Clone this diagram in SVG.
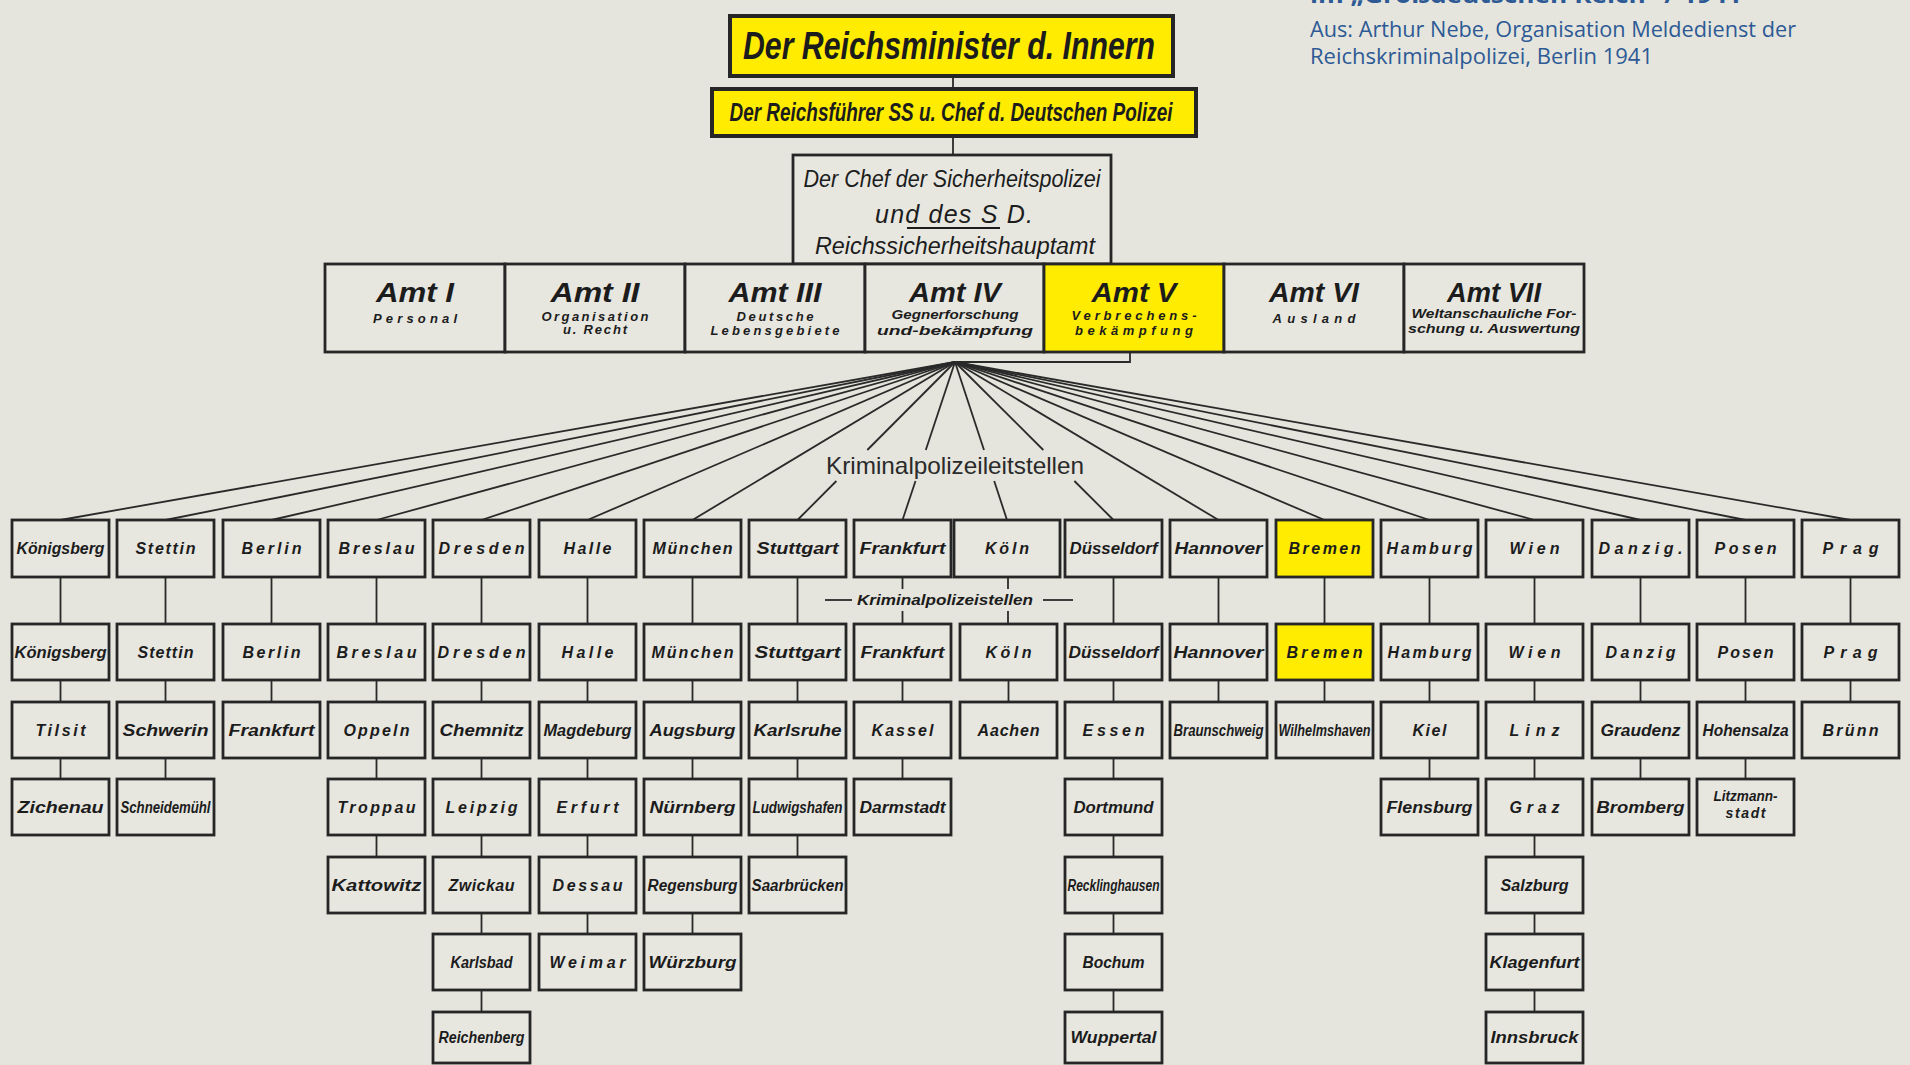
<svg xmlns="http://www.w3.org/2000/svg" width="1910" height="1065" viewBox="0 0 1910 1065">
<style>
.b{fill:#e7e7e0;stroke:#262626;stroke-width:2.8}
.y{fill:#ffec00;stroke:#262626;stroke-width:2.8}
.bt{stroke-width:4}
.t{font-family:"Liberation Sans",Arial,sans-serif;font-weight:bold;font-style:italic;font-size:16px;fill:#1c1c1c;text-anchor:middle}
.s{font-size:13px}
.a{font-size:27px}
.ch{font-family:"Liberation Sans",Arial,sans-serif;font-style:italic;font-size:23px;fill:#1c1c1c;text-anchor:middle}
.kl{font-family:"Liberation Sans",Arial,sans-serif;font-size:24px;fill:#2a2a2a;text-anchor:middle}
.hd{font-family:"Open Sans","Liberation Sans",Arial,sans-serif;font-size:21px;fill:#2d5a95}
.hb{font-family:"Open Sans","Liberation Sans",Arial,sans-serif;font-weight:bold;font-size:24px;fill:#2d5a95}
#connectors line,#connectors path{stroke:#2a2a2a;stroke-width:1.8;fill:none}
</style>
<rect x="0" y="0" width="1910" height="1065" fill="#e5e5dd"/>

<text class="hb" x="1310" y="3" textLength="432" lengthAdjust="spacingAndGlyphs">im „Großdeutschen Reich“ / 1941</text>
<text class="hd" x="1310" y="37" textLength="486" lengthAdjust="spacingAndGlyphs">Aus: Arthur Nebe, Organisation Meldedienst der</text>
<text class="hd" x="1310" y="64" textLength="343" lengthAdjust="spacingAndGlyphs">Reichskriminalpolizei, Berlin 1941</text>

<g id="connectors">
<line x1="953" y1="76" x2="953" y2="89"/>
<line x1="953" y1="136" x2="953" y2="155"/>
<path d="M1130,352 V362 H955"/>
<line x1="955" y1="362" x2="60.5" y2="520"/>
<line x1="955" y1="362" x2="165.5" y2="520"/>
<line x1="955" y1="362" x2="271.5" y2="520"/>
<line x1="955" y1="362" x2="376.5" y2="520"/>
<line x1="955" y1="362" x2="481.5" y2="520"/>
<line x1="955" y1="362" x2="587.5" y2="520"/>
<line x1="955" y1="362" x2="692.5" y2="520"/>
<line x1="955" y1="362" x2="867.3" y2="450"/><line x1="836.4" y1="481" x2="797.5" y2="520"/>
<line x1="955" y1="362" x2="925.8" y2="450"/><line x1="915.5" y1="481" x2="902.5" y2="520"/>
<line x1="955" y1="362" x2="984" y2="450"/><line x1="994.2" y1="481" x2="1007" y2="520"/>
<line x1="955" y1="362" x2="1043.3" y2="450"/><line x1="1074.4" y1="481" x2="1113.5" y2="520"/>
<line x1="955" y1="362" x2="1218.5" y2="520"/>
<line x1="955" y1="362" x2="1324.5" y2="520"/>
<line x1="955" y1="362" x2="1429.5" y2="520"/>
<line x1="955" y1="362" x2="1534.5" y2="520"/>
<line x1="955" y1="362" x2="1640.5" y2="520"/>
<line x1="955" y1="362" x2="1745.5" y2="520"/>
<line x1="955" y1="362" x2="1850.5" y2="520"/>
<line x1="60.5" y1="577" x2="60.5" y2="624"/><line x1="60.5" y1="680" x2="60.5" y2="702"/><line x1="60.5" y1="758" x2="60.5" y2="779"/>
<line x1="165.5" y1="577" x2="165.5" y2="624"/><line x1="165.5" y1="680" x2="165.5" y2="702"/><line x1="165.5" y1="758" x2="165.5" y2="779"/>
<line x1="271.5" y1="577" x2="271.5" y2="624"/><line x1="271.5" y1="680" x2="271.5" y2="702"/>
<line x1="376.5" y1="577" x2="376.5" y2="624"/><line x1="376.5" y1="680" x2="376.5" y2="702"/><line x1="376.5" y1="758" x2="376.5" y2="779"/><line x1="376.5" y1="835" x2="376.5" y2="857"/>
<line x1="481.5" y1="577" x2="481.5" y2="624"/><line x1="481.5" y1="680" x2="481.5" y2="702"/><line x1="481.5" y1="758" x2="481.5" y2="779"/><line x1="481.5" y1="835" x2="481.5" y2="857"/><line x1="481.5" y1="913" x2="481.5" y2="934"/><line x1="481.5" y1="990" x2="481.5" y2="1012"/>
<line x1="587.5" y1="577" x2="587.5" y2="624"/><line x1="587.5" y1="680" x2="587.5" y2="702"/><line x1="587.5" y1="758" x2="587.5" y2="779"/><line x1="587.5" y1="835" x2="587.5" y2="857"/><line x1="587.5" y1="913" x2="587.5" y2="934"/>
<line x1="692.5" y1="577" x2="692.5" y2="624"/><line x1="692.5" y1="680" x2="692.5" y2="702"/><line x1="692.5" y1="758" x2="692.5" y2="779"/><line x1="692.5" y1="835" x2="692.5" y2="857"/><line x1="692.5" y1="913" x2="692.5" y2="934"/>
<line x1="797.5" y1="577" x2="797.5" y2="624"/><line x1="797.5" y1="680" x2="797.5" y2="702"/><line x1="797.5" y1="758" x2="797.5" y2="779"/><line x1="797.5" y1="835" x2="797.5" y2="857"/>
<line x1="902.5" y1="577" x2="902.5" y2="589"/><line x1="902.5" y1="611" x2="902.5" y2="624"/><line x1="902.5" y1="680" x2="902.5" y2="702"/><line x1="902.5" y1="758" x2="902.5" y2="779"/>
<line x1="1008" y1="577" x2="1008" y2="589"/><line x1="1008" y1="611" x2="1008" y2="624"/><line x1="1008.5" y1="680" x2="1008.5" y2="702"/>
<line x1="1113.5" y1="577" x2="1113.5" y2="624"/><line x1="1113.5" y1="680" x2="1113.5" y2="702"/><line x1="1113.5" y1="758" x2="1113.5" y2="779"/><line x1="1113.5" y1="835" x2="1113.5" y2="857"/><line x1="1113.5" y1="913" x2="1113.5" y2="934"/><line x1="1113.5" y1="990" x2="1113.5" y2="1012"/>
<line x1="1218.5" y1="577" x2="1218.5" y2="624"/><line x1="1218.5" y1="680" x2="1218.5" y2="702"/>
<line x1="1324.5" y1="577" x2="1324.5" y2="624"/><line x1="1324.5" y1="680" x2="1324.5" y2="702"/>
<line x1="1429.5" y1="577" x2="1429.5" y2="624"/><line x1="1429.5" y1="680" x2="1429.5" y2="702"/><line x1="1429.5" y1="758" x2="1429.5" y2="779"/>
<line x1="1534.5" y1="577" x2="1534.5" y2="624"/><line x1="1534.5" y1="680" x2="1534.5" y2="702"/><line x1="1534.5" y1="758" x2="1534.5" y2="779"/><line x1="1534.5" y1="835" x2="1534.5" y2="857"/><line x1="1534.5" y1="913" x2="1534.5" y2="934"/><line x1="1534.5" y1="990" x2="1534.5" y2="1012"/>
<line x1="1640.5" y1="577" x2="1640.5" y2="624"/><line x1="1640.5" y1="680" x2="1640.5" y2="702"/><line x1="1640.5" y1="758" x2="1640.5" y2="779"/>
<line x1="1745.5" y1="577" x2="1745.5" y2="624"/><line x1="1745.5" y1="680" x2="1745.5" y2="702"/><line x1="1745.5" y1="758" x2="1745.5" y2="779"/>
<line x1="1850.5" y1="577" x2="1850.5" y2="624"/><line x1="1850.5" y1="680" x2="1850.5" y2="702"/>
<line x1="825" y1="600" x2="852" y2="600"/>
<line x1="1043" y1="600" x2="1073" y2="600"/>
</g>

<g id="reichsminister"><rect class="y bt" x="730" y="16" width="443" height="60"/><text class="t" x="949" y="59" style="font-size:38px" textLength="412" lengthAdjust="spacingAndGlyphs">Der Reichsminister d. Innern</text></g>
<g id="reichsfuehrer"><rect class="y bt" x="712" y="89" width="484" height="47"/><text class="t" x="951" y="121" style="font-size:25px" textLength="443" lengthAdjust="spacingAndGlyphs">Der Reichsführer SS u. Chef d. Deutschen Polizei</text></g>
<g id="chef-sipo"><rect class="b" x="793" y="155" width="318" height="109"/>
<text class="ch" x="952" y="187" textLength="297" lengthAdjust="spacingAndGlyphs">Der Chef der Sicherheitspolizei</text>
<text class="ch" x="954" y="223" style="font-size:25px" textLength="158" lengthAdjust="spacing">und des S D.</text>
<line x1="907" y1="228" x2="1000" y2="228" stroke="#1c1c1c" stroke-width="2"/>
<text class="ch" x="955" y="254" textLength="280" lengthAdjust="spacingAndGlyphs">Reichssicherheitshauptamt</text></g>

<g id="amt1"><rect class="b" x="325" y="264" width="180" height="88"/><text class="t a" x="415" y="302" textLength="78" lengthAdjust="spacingAndGlyphs">Amt I</text><text class="t s" x="415" y="323" textLength="84">Personal</text></g>
<g id="amt2"><rect class="b" x="505" y="264" width="180" height="88"/><text class="t a" x="595" y="302" textLength="89" lengthAdjust="spacingAndGlyphs">Amt II</text><text class="t s" x="595" y="321" textLength="107">Organisation</text><text class="t s" x="595" y="334" textLength="64">u. Recht</text></g>
<g id="amt3"><rect class="b" x="685" y="264" width="180" height="88"/><text class="t a" x="775" y="302" textLength="93" lengthAdjust="spacingAndGlyphs">Amt III</text><text class="t s" x="775" y="321" textLength="77">Deutsche</text><text class="t s" x="775" y="335" textLength="129">Lebensgebiete</text></g>
<g id="amt4"><rect class="b" x="865" y="264" width="179" height="88"/><text class="t a" x="955" y="302" textLength="92" lengthAdjust="spacingAndGlyphs">Amt IV</text><text class="t s" x="955" y="319" textLength="127" lengthAdjust="spacingAndGlyphs">Gegnerforschung</text><text class="t s" x="955" y="335" textLength="156" lengthAdjust="spacingAndGlyphs">und-bekämpfung</text></g>
<g id="amt5"><rect class="y" x="1044" y="264" width="180" height="88"/><text class="t a" x="1134" y="302" textLength="85" lengthAdjust="spacingAndGlyphs">Amt V</text><text class="t s" x="1134" y="320" textLength="125">Verbrechens-</text><text class="t s" x="1134" y="335" textLength="118">bekämpfung</text></g>
<g id="amt6"><rect class="b" x="1224" y="264" width="180" height="88"/><text class="t a" x="1314" y="302" textLength="90" lengthAdjust="spacingAndGlyphs">Amt VI</text><text class="t s" x="1314" y="323" textLength="83">Ausland</text></g>
<g id="amt7"><rect class="b" x="1404" y="264" width="180" height="88"/><text class="t a" x="1494" y="302" textLength="94" lengthAdjust="spacingAndGlyphs">Amt VII</text><text class="t s" x="1494" y="318" textLength="165" lengthAdjust="spacingAndGlyphs">Weltanschauliche For-</text><text class="t s" x="1494" y="333" textLength="172" lengthAdjust="spacingAndGlyphs">schung u. Auswertung</text></g>

<g id="label-leitstellen"><text class="kl" x="955" y="474" textLength="258" lengthAdjust="spacingAndGlyphs">Kriminalpolizeileitstellen</text></g>
<g id="label-stellen"><text class="t" x="945" y="605" style="font-size:15px" textLength="176" lengthAdjust="spacingAndGlyphs">Kriminalpolizeistellen</text></g>

<g id="c0r1"><rect class="b" x="12" y="520" width="97" height="57"/><text class="t" x="60.5" y="554" textLength="88" lengthAdjust="spacingAndGlyphs">Königsberg</text></g>
<g id="c0r2"><rect class="b" x="12" y="624" width="97" height="56"/><text class="t" x="60.5" y="658" textLength="92" lengthAdjust="spacingAndGlyphs">Königsberg</text></g>
<g id="c0r3"><rect class="b" x="12" y="702" width="97" height="56"/><text class="t" x="60.5" y="736" textLength="50">Tilsit</text></g>
<g id="c0r4"><rect class="b" x="12" y="779" width="97" height="56"/><text class="t" x="60.5" y="813" textLength="86" lengthAdjust="spacingAndGlyphs">Zichenau</text></g>
<g id="c1r1"><rect class="b" x="117" y="520" width="97" height="57"/><text class="t" x="165.5" y="554" textLength="60">Stettin</text></g>
<g id="c1r2"><rect class="b" x="117" y="624" width="97" height="56"/><text class="t" x="165.5" y="658" textLength="56">Stettin</text></g>
<g id="c1r3"><rect class="b" x="117" y="702" width="97" height="56"/><text class="t" x="165.5" y="736" textLength="86" lengthAdjust="spacingAndGlyphs">Schwerin</text></g>
<g id="c1r4"><rect class="b" x="117" y="779" width="97" height="56"/><text class="t" x="165.5" y="813" textLength="90" lengthAdjust="spacingAndGlyphs">Schneidemühl</text></g>
<g id="c2r1"><rect class="b" x="223" y="520" width="97" height="57"/><text class="t" x="271.5" y="554" textLength="60">Berlin</text></g>
<g id="c2r2"><rect class="b" x="223" y="624" width="97" height="56"/><text class="t" x="271.5" y="658" textLength="58">Berlin</text></g>
<g id="c2r3"><rect class="b" x="223" y="702" width="97" height="56"/><text class="t" x="271.5" y="736" textLength="86" lengthAdjust="spacingAndGlyphs">Frankfurt</text></g>
<g id="c3r1"><rect class="b" x="328" y="520" width="97" height="57"/><text class="t" x="376.5" y="554" textLength="76">Breslau</text></g>
<g id="c3r2"><rect class="b" x="328" y="624" width="97" height="56"/><text class="t" x="376.5" y="658" textLength="80">Breslau</text></g>
<g id="c3r3"><rect class="b" x="328" y="702" width="97" height="56"/><text class="t" x="376.5" y="736" textLength="66">Oppeln</text></g>
<g id="c3r4"><rect class="b" x="328" y="779" width="97" height="56"/><text class="t" x="376.5" y="813" textLength="78">Troppau</text></g>
<g id="c3r5"><rect class="b" x="328" y="857" width="97" height="56"/><text class="t" x="376.5" y="891" textLength="90" lengthAdjust="spacingAndGlyphs">Kattowitz</text></g>
<g id="c4r1"><rect class="b" x="433" y="520" width="97" height="57"/><text class="t" x="481.5" y="554" textLength="86">Dresden</text></g>
<g id="c4r2"><rect class="b" x="433" y="624" width="97" height="56"/><text class="t" x="481.5" y="658" textLength="88">Dresden</text></g>
<g id="c4r3"><rect class="b" x="433" y="702" width="97" height="56"/><text class="t" x="481.5" y="736" textLength="84" lengthAdjust="spacingAndGlyphs">Chemnitz</text></g>
<g id="c4r4"><rect class="b" x="433" y="779" width="97" height="56"/><text class="t" x="481.5" y="813" textLength="72">Leipzig</text></g>
<g id="c4r5"><rect class="b" x="433" y="857" width="97" height="56"/><text class="t" x="481.5" y="891" textLength="66">Zwickau</text></g>
<g id="c4r6"><rect class="b" x="433" y="934" width="97" height="56"/><text class="t" x="481.5" y="968" textLength="62" lengthAdjust="spacingAndGlyphs">Karlsbad</text></g>
<g id="c4r7"><rect class="b" x="433" y="1012" width="97" height="51"/><text class="t" x="481.5" y="1043" textLength="86" lengthAdjust="spacingAndGlyphs">Reichenberg</text></g>
<g id="c5r1"><rect class="b" x="539" y="520" width="97" height="57"/><text class="t" x="587.5" y="554" textLength="48">Halle</text></g>
<g id="c5r2"><rect class="b" x="539" y="624" width="97" height="56"/><text class="t" x="587.5" y="658" textLength="52">Halle</text></g>
<g id="c5r3"><rect class="b" x="539" y="702" width="97" height="56"/><text class="t" x="587.5" y="736" textLength="88" lengthAdjust="spacingAndGlyphs">Magdeburg</text></g>
<g id="c5r4"><rect class="b" x="539" y="779" width="97" height="56"/><text class="t" x="587.5" y="813" textLength="62">Erfurt</text></g>
<g id="c5r5"><rect class="b" x="539" y="857" width="97" height="56"/><text class="t" x="587.5" y="891" textLength="70">Dessau</text></g>
<g id="c5r6"><rect class="b" x="539" y="934" width="97" height="56"/><text class="t" x="587.5" y="968" textLength="76">Weimar</text></g>
<g id="c6r1"><rect class="b" x="644" y="520" width="97" height="57"/><text class="t" x="692.5" y="554" textLength="80">München</text></g>
<g id="c6r2"><rect class="b" x="644" y="624" width="97" height="56"/><text class="t" x="692.5" y="658" textLength="82">München</text></g>
<g id="c6r3"><rect class="b" x="644" y="702" width="97" height="56"/><text class="t" x="692.5" y="736" textLength="86" lengthAdjust="spacingAndGlyphs">Augsburg</text></g>
<g id="c6r4"><rect class="b" x="644" y="779" width="97" height="56"/><text class="t" x="692.5" y="813" textLength="86" lengthAdjust="spacingAndGlyphs">Nürnberg</text></g>
<g id="c6r5"><rect class="b" x="644" y="857" width="97" height="56"/><text class="t" x="692.5" y="891" textLength="90" lengthAdjust="spacingAndGlyphs">Regensburg</text></g>
<g id="c6r6"><rect class="b" x="644" y="934" width="97" height="56"/><text class="t" x="692.5" y="968" textLength="88" lengthAdjust="spacingAndGlyphs">Würzburg</text></g>
<g id="c7r1"><rect class="b" x="749" y="520" width="97" height="57"/><text class="t" x="797.5" y="554" textLength="82" lengthAdjust="spacingAndGlyphs">Stuttgart</text></g>
<g id="c7r2"><rect class="b" x="749" y="624" width="97" height="56"/><text class="t" x="797.5" y="658" textLength="86" lengthAdjust="spacingAndGlyphs">Stuttgart</text></g>
<g id="c7r3"><rect class="b" x="749" y="702" width="97" height="56"/><text class="t" x="797.5" y="736" textLength="88" lengthAdjust="spacingAndGlyphs">Karlsruhe</text></g>
<g id="c7r4"><rect class="b" x="749" y="779" width="97" height="56"/><text class="t" x="797.5" y="813" textLength="90" lengthAdjust="spacingAndGlyphs">Ludwigshafen</text></g>
<g id="c7r5"><rect class="b" x="749" y="857" width="97" height="56"/><text class="t" x="797.5" y="891" textLength="92" lengthAdjust="spacingAndGlyphs">Saarbrücken</text></g>
<g id="c8r1"><rect class="b" x="854" y="520" width="97" height="57"/><text class="t" x="902.5" y="554" textLength="86" lengthAdjust="spacingAndGlyphs">Frankfurt</text></g>
<g id="c8r2"><rect class="b" x="854" y="624" width="97" height="56"/><text class="t" x="902.5" y="658" textLength="84" lengthAdjust="spacingAndGlyphs">Frankfurt</text></g>
<g id="c8r3"><rect class="b" x="854" y="702" width="97" height="56"/><text class="t" x="902.5" y="736" textLength="62">Kassel</text></g>
<g id="c8r4"><rect class="b" x="854" y="779" width="97" height="56"/><text class="t" x="902.5" y="813" textLength="86" lengthAdjust="spacingAndGlyphs">Darmstadt</text></g>
<g id="c9r1"><rect class="b" x="954" y="520" width="106" height="57"/><text class="t" x="1007" y="554" textLength="44">Köln</text></g>
<g id="c9r2"><rect class="b" x="960" y="624" width="97" height="56"/><text class="t" x="1008.5" y="658" textLength="46">Köln</text></g>
<g id="c9r3"><rect class="b" x="960" y="702" width="97" height="56"/><text class="t" x="1008.5" y="736" textLength="62">Aachen</text></g>
<g id="c10r1"><rect class="b" x="1065" y="520" width="97" height="57"/><text class="t" x="1113.5" y="554" textLength="88" lengthAdjust="spacingAndGlyphs">Düsseldorf</text></g>
<g id="c10r2"><rect class="b" x="1065" y="624" width="97" height="56"/><text class="t" x="1113.5" y="658" textLength="90" lengthAdjust="spacingAndGlyphs">Düsseldorf</text></g>
<g id="c10r3"><rect class="b" x="1065" y="702" width="97" height="56"/><text class="t" x="1113.5" y="736" textLength="62">Essen</text></g>
<g id="c10r4"><rect class="b" x="1065" y="779" width="97" height="56"/><text class="t" x="1113.5" y="813" textLength="80" lengthAdjust="spacingAndGlyphs">Dortmund</text></g>
<g id="c10r5"><rect class="b" x="1065" y="857" width="97" height="56"/><text class="t" x="1113.5" y="891" textLength="92" lengthAdjust="spacingAndGlyphs">Recklinghausen</text></g>
<g id="c10r6"><rect class="b" x="1065" y="934" width="97" height="56"/><text class="t" x="1113.5" y="968" textLength="62" lengthAdjust="spacingAndGlyphs">Bochum</text></g>
<g id="c10r7"><rect class="b" x="1065" y="1012" width="97" height="51"/><text class="t" x="1113.5" y="1043" textLength="86" lengthAdjust="spacingAndGlyphs">Wuppertal</text></g>
<g id="c11r1"><rect class="b" x="1170" y="520" width="97" height="57"/><text class="t" x="1218.5" y="554" textLength="88" lengthAdjust="spacingAndGlyphs">Hannover</text></g>
<g id="c11r2"><rect class="b" x="1170" y="624" width="97" height="56"/><text class="t" x="1218.5" y="658" textLength="90" lengthAdjust="spacingAndGlyphs">Hannover</text></g>
<g id="c11r3"><rect class="b" x="1170" y="702" width="97" height="56"/><text class="t" x="1218.5" y="736" textLength="90" lengthAdjust="spacingAndGlyphs">Braunschweig</text></g>
<g id="c12r1"><rect class="y" x="1276" y="520" width="97" height="57"/><text class="t" x="1324.5" y="554" textLength="72">Bremen</text></g>
<g id="c12r2"><rect class="y" x="1276" y="624" width="97" height="56"/><text class="t" x="1324.5" y="658" textLength="76">Bremen</text></g>
<g id="c12r3"><rect class="b" x="1276" y="702" width="97" height="56"/><text class="t" x="1324.5" y="736" textLength="92" lengthAdjust="spacingAndGlyphs">Wilhelmshaven</text></g>
<g id="c13r1"><rect class="b" x="1381" y="520" width="97" height="57"/><text class="t" x="1429.5" y="554" textLength="86">Hamburg</text></g>
<g id="c13r2"><rect class="b" x="1381" y="624" width="97" height="56"/><text class="t" x="1429.5" y="658" textLength="84">Hamburg</text></g>
<g id="c13r3"><rect class="b" x="1381" y="702" width="97" height="56"/><text class="t" x="1429.5" y="736" textLength="34">Kiel</text></g>
<g id="c13r4"><rect class="b" x="1381" y="779" width="97" height="56"/><text class="t" x="1429.5" y="813" textLength="86" lengthAdjust="spacingAndGlyphs">Flensburg</text></g>
<g id="c14r1"><rect class="b" x="1486" y="520" width="97" height="57"/><text class="t" x="1534.5" y="554" textLength="50">Wien</text></g>
<g id="c14r2"><rect class="b" x="1486" y="624" width="97" height="56"/><text class="t" x="1534.5" y="658" textLength="52">Wien</text></g>
<g id="c14r3"><rect class="b" x="1486" y="702" width="97" height="56"/><text class="t" x="1534.5" y="736" textLength="50">Linz</text></g>
<g id="c14r4"><rect class="b" x="1486" y="779" width="97" height="56"/><text class="t" x="1534.5" y="813" textLength="50">Graz</text></g>
<g id="c14r5"><rect class="b" x="1486" y="857" width="97" height="56"/><text class="t" x="1534.5" y="891" textLength="68" lengthAdjust="spacingAndGlyphs">Salzburg</text></g>
<g id="c14r6"><rect class="b" x="1486" y="934" width="97" height="56"/><text class="t" x="1534.5" y="968" textLength="90" lengthAdjust="spacingAndGlyphs">Klagenfurt</text></g>
<g id="c14r7"><rect class="b" x="1486" y="1012" width="97" height="51"/><text class="t" x="1534.5" y="1043" textLength="88" lengthAdjust="spacingAndGlyphs">Innsbruck</text></g>
<g id="c15r1"><rect class="b" x="1592" y="520" width="97" height="57"/><text class="t" x="1640.5" y="554" textLength="84">Danzig.</text></g>
<g id="c15r2"><rect class="b" x="1592" y="624" width="97" height="56"/><text class="t" x="1640.5" y="658" textLength="70">Danzig</text></g>
<g id="c15r3"><rect class="b" x="1592" y="702" width="97" height="56"/><text class="t" x="1640.5" y="736" textLength="80" lengthAdjust="spacingAndGlyphs">Graudenz</text></g>
<g id="c15r4"><rect class="b" x="1592" y="779" width="97" height="56"/><text class="t" x="1640.5" y="813" textLength="88" lengthAdjust="spacingAndGlyphs">Bromberg</text></g>
<g id="c16r1"><rect class="b" x="1697" y="520" width="97" height="57"/><text class="t" x="1745.5" y="554" textLength="62">Posen</text></g>
<g id="c16r2"><rect class="b" x="1697" y="624" width="97" height="56"/><text class="t" x="1745.5" y="658" textLength="56">Posen</text></g>
<g id="c16r3"><rect class="b" x="1697" y="702" width="97" height="56"/><text class="t" x="1745.5" y="736" textLength="86" lengthAdjust="spacingAndGlyphs">Hohensalza</text></g>
<g id="c16r4"><rect class="b" x="1697" y="779" width="97" height="56"/><text class="t" x="1745.5" y="801" style="font-size:14px" textLength="64" lengthAdjust="spacingAndGlyphs">Litzmann-</text><text class="t" x="1745.5" y="818" style="font-size:14px" textLength="40">stadt</text></g>
<g id="c17r1"><rect class="b" x="1802" y="520" width="97" height="57"/><text class="t" x="1850.5" y="554" textLength="56">Prag</text></g>
<g id="c17r2"><rect class="b" x="1802" y="624" width="97" height="56"/><text class="t" x="1850.5" y="658" textLength="54">Prag</text></g>
<g id="c17r3"><rect class="b" x="1802" y="702" width="97" height="56"/><text class="t" x="1850.5" y="736" textLength="56">Brünn</text></g>
</svg>
